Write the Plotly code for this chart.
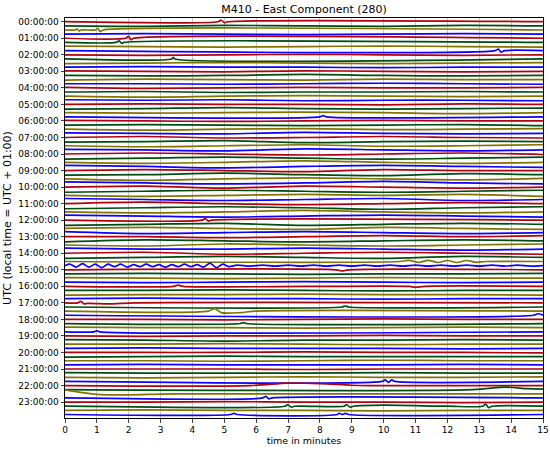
import plotly.graph_objects as go

# ObsPy-style dayplot: 96 fifteen-minute rows, colours cycle per quarter hour
colors = ["#B2000F", "#004C12", "#847200", "#0E01FF"]
hour_labels = ["00:00:00", "01:00:00", "02:00:00", "03:00:00", "04:00:00", "05:00:00",
               "06:00:00", "07:00:00", "08:00:00", "09:00:00", "10:00:00", "11:00:00",
               "12:00:00", "13:00:00", "14:00:00", "15:00:00", "16:00:00", "17:00:00",
               "18:00:00", "19:00:00", "20:00:00", "21:00:00", "22:00:00", "23:00:00"]
x_ticks = [0, 1, 2, 3, 4, 5, 6, 7, 8, 9, 10, 11, 12, 13, 14, 15]

# slow drift of each row (pixels, up = positive) at these minutes
knot_minutes = [0, 2.5, 5, 7.5, 10, 12.5, 15]
drift_px = [
    [0, 0, 0, 0, 0, 0, 0], [0, -0.5, 0.5, 0, -0.5, 0.5, 0], [0, 0, 0, 0, 0, 0, 0], [0, 0.5, 0, -0.5, 0, 0.5, 0],
    [0, 0, 0, 0, 0, 0, 0], [0, 0, 0, 0, 0, 0, 0], [0.5, 0, -0.5, 0, 0.5, 0, -0.5], [0, 0, 0, 0, 0, 0, 0],
    [0, -0.5, 0, 0.5, 0, -0.5, 0], [0, 0, 0, 0, 0, 0, 0], [-0.5, 0, 0.5, 0, -0.5, 0, 0.5], [0, 0.5, 0, 0, -0.5, 0, 0],
    [0.5, 0, -0.5, 0.5, 0, -0.5, 0], [0, -0.5, 0, 1, 0, -0.5, 0], [-0.5, 0.5, 0, -0.5, 0.5, 0, 0], [0, 0, -0.5, 0, 0.5, 0, -0.5],
    [0.5, -0.5, 0, 0.5, 0, 0, 0.5], [0, 0.5, -0.5, 0, 0, 0.5, 0], [0, -1, 0, 0.5, 0, -0.5, 0], [0.5, 0, 0.5, -0.5, 0, 0, -0.5],
    [0, 0.5, 0, 0, -0.5, 0.5, 0], [-0.5, 0, 1, 0, -0.5, 0, 0.5], [0, -0.5, 0, 0.5, 0, -1, 0], [0, 0, 0, 0, 0, 0, 0],
    [0.5, 0, -0.5, 0, 0.5, 0, 0], [0, 0.5, 0, -0.5, 0, 0.5, -0.5], [0, -1, 0, 0.5, -0.5, 0, 0.5], [0.5, 0, -0.5, 1, 0, -0.5, 0],
    [0, 1, -0.5, 0, 1, 0, -0.5], [-0.5, 0, 1, -1, 0, 0.5, 0], [0, -1, 0, 1, -0.5, 0, 1], [0.5, 0, -1, 1, 0, -1, 0],
    [0, 1, 0, -1, 0, 1, -0.5], [-1, 0, 1, 0, -1, 0, 1], [0, -1, 0, 1.5, 0, -1, 0], [1, 0, -1.5, 0, 1, 0, -1],
    [0, 1, 0, -1, 1, 0, 0], [-0.5, 0, 1.5, 0, -1, 1, 0], [0, -1.5, 0, 1, 0, -1, 0.5], [1, 0, -1, 0, 1.5, 0, -1],
    [0, 1, -1, 1, 0, -1, 0], [-1, 0, 1, 0, -1, 0, 1], [0, -1, 0, 1, 0, 1, -1], [1, 0, -1, 0, 1, -1, 0],
    [0, 1.5, 0, -1, 0, 1, 0], [-1, 0, 1, 0, -1.5, 0, 1], [0, -1, 0, 1.5, 0, -1, 0], [1, 0, -1, 0, 1, 0, -1],
    [0, 0, 0, 0, 0, 0, 0], [-1, 0, 1, -1, 0, 1, 0], [0, 1, 0, -1, 1, 0, -1], [1, -1, 0, 1, 0, -1, 0],
    [0, 0, -1, 0, 1, 0, 1], [-1, 1, 0, -1, 0, 1, 0], [0, -1, 1, 0, -1, 0, 1], [1, 0, 0, 1, 0, -1, 0],
    [0, 1, -1, 0, 1, 0, -1], [-1, 0, 1, 0, -1, 1, 0], [0, 0, 0, 0, 0, 0, 0], [0, 0, 0, 0, 0, 0, 0],
    [0, 0, 0, 0, 0, 0, 0], [0, 0.5, 0, -0.5, 0, 0, 0.5], [0.5, 0, -0.5, 0, 0.5, 0, 0], [0, -0.5, 0, 0.5, 0, -0.5, 0],
    [0, 0, 0, 0, 0, 0, 0], [0, 0, 0.5, 0, -0.5, 0, 0], [-0.5, 0, 0, 0.5, 0, 0, -0.5], [0, 0.5, 0, 0, -0.5, 0, 0],
    [0, 0, 0, 0, 0, 0, 0], [0, 0, 0, 0, 0, 0, 0], [0, 0, 0, 0, 0, 0, 0], [0, 0, 0, 0, 0, 0, 0],
    [0, 0, -0.5, 0, 0.5, 0, 0], [0, 0, 0, 0, 0, 0, 0], [0.5, 0, 0, -0.5, 0, 0.5, 0], [0, 0, 0, 0, 0, 0, 0],
    [0, -0.5, 0, 0, 0.5, 0, 0], [0.5, 0, -1, 0, 0, 0.5, 0], [0, 0, 0.5, 0, -0.5, 0, 0], [0, 0.5, 0, 0, 0, -0.5, 0],
    [0, 0, 0, 0.5, 0, 0, -0.5], [-0.5, 0, 0.5, 0, 0, 0, 0], [0, 0, -0.5, 0, 0.5, 0, 0], [0, 0.5, 0, 0, 0, 0.5, 0],
    [0, 0, 0, -0.5, 0, 0, 0], [0.5, 0, 0, 0, 0.5, 0, 0], [0, -0.5, 0, 0.5, 0, 0, 0.5], [0, 0, 0, 0, 0, 0, 0],
    [0, 0, 0, 0, 0, 0, 0], [0, 0, 0, 0, 0, 0, 0], [0, 0, 0, 0, 0, 0, 0], [0, 0, 0, 0, 0, 0, 0],
    [0, 0, 0.5, 0, 0, -0.5, 0], [0, 0, 0, 0, 0, 0, 0], [0, 0.5, 0, 0, -0.5, 0, 0], [0, 0, 0, 0, 0, 0, 0],
]

# visible events / wiggles (row, minute, pixel offset)
ev_line = (
    [0] * 4 + [2] * 8 + [4] * 4 + [5] * 4 + [7] * 4 + [9] * 3 + [23] * 3 + [48] * 4
    + [58] * 10 + [59] * 52 + [60] * 3 + [64] * 6 + [68] * 6 + [69] * 3 + [70] * 5 + [71] * 3
    + [73] * 3 + [75] * 3 + [87] * 5 + [88] * 5 + [89] * 4 + [90] * 5 + [91] * 4 + [93] * 14 + [95] * 8
)
ev_min = [
    4.8, 4.9, 5.0, 5.1,
    0.3, 0.38, 0.45, 0.5, 0.95, 1.03, 1.1, 1.2,
    1.9, 2.0, 2.07, 2.15,
    1.6, 1.7, 1.78, 1.85,
    13.5, 13.6, 13.68, 13.8,
    3.35, 3.4, 3.45,
    8.0, 8.1, 8.2,
    4.3, 4.4, 4.5, 4.6,
    10.5, 10.8, 11.1, 11.4, 11.7, 12.0, 12.3, 12.6, 12.9, 13.2,
    0.0, 0.15, 0.35, 0.55, 0.75, 0.95, 1.15, 1.35, 1.55, 1.75, 1.95, 2.15, 2.35, 2.55,
    2.75, 2.95, 3.15, 3.35, 3.55, 3.75, 3.95, 4.15, 4.35, 4.55, 4.75, 4.95, 5.15, 5.4,
    5.8, 6.2, 6.6, 7.0, 7.4, 7.8, 8.2, 8.6, 9.0, 9.4, 9.8, 10.2, 10.6, 11.0, 11.4, 11.8,
    12.2, 12.6, 13.0, 13.4, 13.8, 14.2, 14.6, 15.0,
    8.5, 8.7, 8.9,
    3.4, 3.55, 3.7, 10.8, 11.0, 11.3,
    0.4, 0.5, 0.6, 0.7, 1.5, 2.2,
    8.7, 8.8, 8.9,
    4.5, 4.7, 4.9, 5.5, 6.0,
    14.7, 14.85, 15.0,
    5.5, 5.6, 5.7,
    0.9, 1.0, 1.1,
    9.95, 10.05, 10.15, 10.25, 10.35,
    5.8, 7.0, 8.0, 9.0, 9.6,
    12.8, 13.8, 14.5, 15.0,
    0.0, 1.0, 2.0, 2.8, 3.5,
    6.2, 6.3, 6.4, 6.5,
    6.9, 7.0, 7.1, 7.2, 8.75, 8.85, 8.95, 9.05, 10.0, 12.0, 13.1, 13.2, 13.3, 13.4,
    5.2, 5.3, 5.4, 8.55, 8.6, 8.7, 8.8, 8.9,
]
ev_px = [
    0, 1.5, -1, 0,
    0, 1, -1, 0, 0, 1.5, -1.5, 0,
    0, 2, -1.5, 0,
    0, 1.5, -1, 0,
    0, 1.5, -1.5, 0,
    0, 1.5, 0,
    0, 1.2, 0,
    0, 1.5, -1, 0,
    0, 1.2, -1, 1.2, -1, 1, -1, 1, -0.8, 0,
    0, 1.5, -1.5, 2, -1.5, 1.5, -2, 1.5, -1, 1.5, -1.5, 1, -1, 1.5,
    -1, 1, -1.5, 1, -1, 1.5, -1, 1, -1.5, 2.5, -2, 1.5, -1, 0.5,
    -0.5, 0.5, -0.5, 0.5, -0.5, 0.5, -0.5, 0.5, -0.5, 0.5, -0.5, 0.5, -0.5, 0.5, -0.5, 0.5,
    -0.5, 0.5, -0.5, 0.5, -0.5, 0.5, -0.5, 0,
    0, -1.2, 0,
    0, 1.2, 0, 0, -1, 0,
    0, 1.5, -1, -0.5, -1, 0,
    0, 1, 0,
    0, 2.5, -1.5, -1.5, 0,
    0, 1.5, 0,
    0, 1, 0,
    0, 1, 0,
    0, 1.5, -1, 1.5, 0,
    0, 2.5, 2, 0.3, 0,
    0, 2.5, 1, 0.5,
    4, -0.5, -1, -0.5, 0,
    0, 1.5, -1, 0,
    0, 1.5, -1, 0, 0, 1.5, -1, 0, 1, 0, 0, 2, -1.5, 0,
    0, 1.2, 0, 0, 1.2, 0, 1.2, 0,
]

PX_PER_ROW = 4.141

fig = go.Figure()
for row in range(96):
    mins = [m for l, m in zip(ev_line, ev_min) if l == row]
    pxs = [p for l, p in zip(ev_line, ev_px) if l == row]
    if mins:
        if mins[0] > 0:
            mins, pxs = [0] + mins, [0] + pxs
        if mins[-1] < 15:
            mins, pxs = mins + [15], pxs + [0]
    else:
        mins, pxs = knot_minutes, drift_px[row]
    fig.add_trace(go.Scatter(
        x=mins, y=[row - p / PX_PER_ROW for p in pxs], mode="lines",
        line=dict(color=colors[row % 4], width=1.7, shape="spline", smoothing=0.8),
        showlegend=False, hoverinfo="skip",
    ))

fig.update_layout(
    width=550, height=451,
    margin=dict(l=65, r=7, t=18, b=33),
    paper_bgcolor="white", plot_bgcolor="white",
    font=dict(family="DejaVu Sans", color="black", size=9),
    title=dict(text="M410 - East Component (280)", x=0.5, xref="paper", xanchor="center",
               y=1 - 9 / 451, yref="container", yanchor="middle", font=dict(size=11)),
)
fig.update_xaxes(
    range=[0, 15], tickvals=x_ticks, ticks="outside", ticklen=3.5, automargin=False,
    showgrid=True, gridcolor="#c8c8c8", gridwidth=0.8, zeroline=False,
    showline=True, mirror=True, linecolor="black", linewidth=1,
    title=dict(text="time in minutes", font=dict(size=9.5), standoff=2),
)
fig.update_yaxes(
    range=[95.85, -0.9], tickvals=list(range(0, 96, 4)), ticktext=hour_labels,
    ticks="outside", ticklen=3.5, showgrid=False, zeroline=False, automargin=False,
    showline=True, mirror=True, linecolor="black", linewidth=1,
    title=dict(text="UTC (local time = UTC + 01:00)", font=dict(size=11), standoff=4),
)

# page body margin would shift the chart by 8px
fig.write_html("out.html", config={"displayModeBar": False},
               post_script="document.body.style.margin='0';")
